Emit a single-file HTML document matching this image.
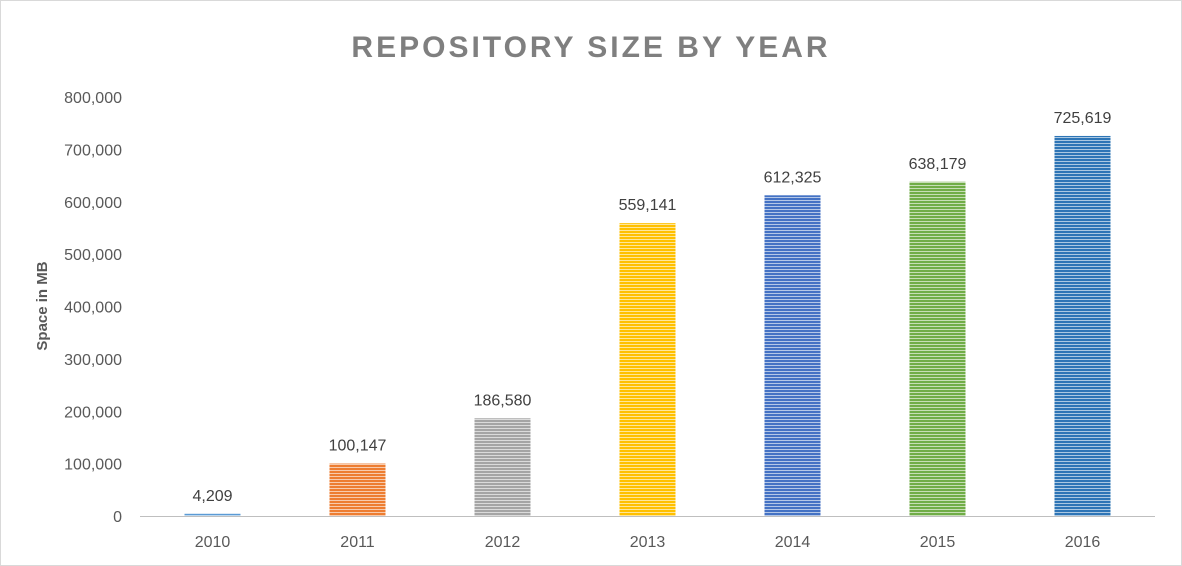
<!DOCTYPE html>
<html><head><meta charset="utf-8"><style>
body{margin:0;background:#fff;}
svg{display:block;font-family:"Liberation Sans",sans-serif;}
</style></head><body>
<svg id="chart" width="1182" height="566">
<defs id="defs"></defs>
<rect x="0.5" y="0.5" width="1181" height="565" fill="#fff" stroke="#d9d9d9"/>
<text x="591" y="57" text-anchor="middle" font-size="30" font-weight="bold" fill="#7f7f7f" letter-spacing="3">REPOSITORY SIZE BY YEAR</text>
<text transform="translate(47,306) rotate(-90)" text-anchor="middle" font-size="15" font-weight="bold" fill="#595959">Space in MB</text>
<g id="yaxis"></g><g id="bars"></g><g id="xaxis"></g>
</svg>
<script>
const categories=["2010","2011","2012","2013","2014","2015","2016"];
const values=[4209,100147,186580,559141,612325,638179,725619];
const colors=["#5B9BD5","#ED7D31","#A5A5A5","#FFC000","#4472C4","#70AD47","#2E75B6"];
const yTicks=[0,100000,200000,300000,400000,500000,600000,700000,800000];
const NS="http://www.w3.org/2000/svg";
const x0=140,x1=1155,y0=516,y1=97,yMax=800000;
const band=(x1-x0)/categories.length;
function yS(v){return y0-(v/yMax)*(y0-y1);}
function xC(i){return x0+band*(i+0.5);}
function mk(t,a){const e=document.createElementNS(NS,t);for(const k in a)e.setAttribute(k,a[k]);return e;}
const defs=document.getElementById('defs');
colors.forEach((c,i)=>{
 const p=mk('pattern',{id:'p'+i,width:4,height:3,patternUnits:'userSpaceOnUse'});
 p.appendChild(mk('rect',{x:0,y:0,width:4,height:3,fill:c}));
 p.appendChild(mk('rect',{x:0,y:2,width:4,height:1,fill:'#fff','fill-opacity':0.6}));
 defs.appendChild(p);
});
const ya=document.getElementById('yaxis');
yTicks.forEach(v=>{
 const t=mk('text',{x:122,y:yS(v)+6,'text-anchor':'end','font-size':16,fill:'#595959'});
 t.textContent=v.toLocaleString('en-US');
 
 
 ya.appendChild(t);
});
const bg=document.getElementById('bars');
values.forEach((v,i)=>{
 const w=56;
 const r=mk('rect',{x:xC(i)-w/2,y:yS(v),width:w,height:y0-yS(v),fill:'url(#p'+i+')'});
 
 
 bg.appendChild(r);
 const l=mk('text',{x:xC(i),y:yS(v)-13,'text-anchor':'middle','font-size':16,fill:'#404040'});
 l.textContent=v.toLocaleString('en-US');
 
 
 bg.appendChild(l);
});
const xa=document.getElementById('xaxis');
const ax=mk('line',{x1:x0,x2:x1,y1:y0+0.5,y2:y0+0.5,stroke:'#bfbfbf','stroke-width':1});


xa.appendChild(ax);
categories.forEach((c,i)=>{
 const t=mk('text',{x:xC(i),y:547,'text-anchor':'middle','font-size':16,fill:'#595959'});
 t.textContent=c;
 
 
 xa.appendChild(t);
});
</script>
</body></html>
